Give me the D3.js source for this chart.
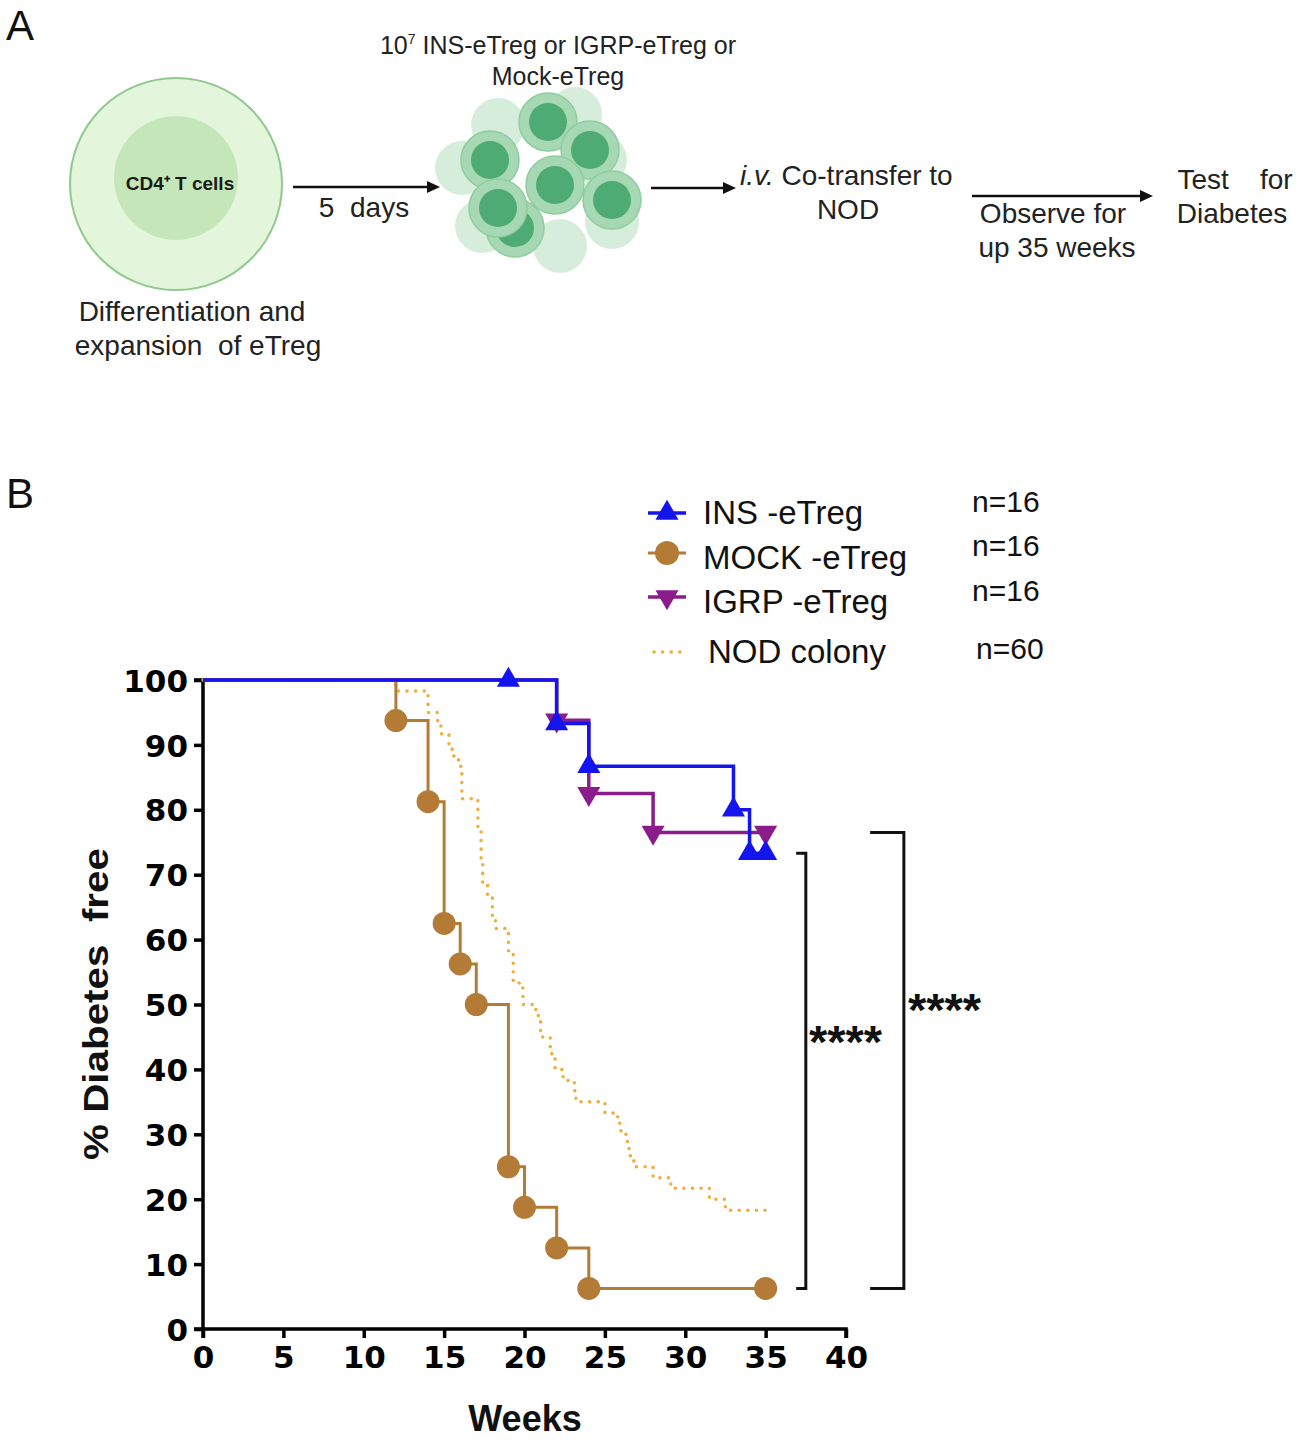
<!DOCTYPE html>
<html>
<head>
<meta charset="utf-8">
<script src="https://cdn.jsdelivr.net/npm/d3@7"></script>
<style>
    body { margin: 0; background: #fff; }
    svg { display: block; }
    text { white-space: pre; }
    .panelText { font-family: "Liberation Sans", Arial, sans-serif; fill: #222; }
    .tickText { font-family: "DejaVu Sans", sans-serif; font-weight: bold; fill: #000; }
</style>
</head>
<body>
<script>
//survival data (weeks, % diabetes free)
var insTimes = [0, 22, 24, 33, 34],
    insValues = [100, 93.3, 86.7, 80, 73.3],
    insMarkTimes = [19, 22, 24, 33, 34, 35],
    insMarkValues = [100, 93.3, 86.7, 80, 73.3, 73.3];

var igrpTimes = [0, 22, 24, 28],
    igrpValues = [100, 93.8, 82.5, 76.5],
    igrpMarkTimes = [22, 24, 28, 35],
    igrpMarkValues = [93.8, 82.5, 76.5, 76.5];

var mockTimes = [0, 12, 14, 15, 16, 17, 19, 20, 22, 24],
    mockValues = [100, 93.75, 81.25, 62.5, 56.25, 50, 25, 18.75, 12.5, 6.25],
    mockMarkTimes = [12, 14, 15, 16, 17, 19, 20, 22, 24, 35],
    mockMarkValues = [93.75, 81.25, 62.5, 56.25, 50, 25, 18.75, 12.5, 6.25, 6.25];

var nodTimes = [0, 12.0, 14.0, 14.6, 14.8, 15.3, 15.5, 15.9, 16.1, 17.1, 17.3, 17.4, 17.7, 18.0, 18.2, 19.0, 19.3, 19.9,
                20.7, 21.0, 21.6, 21.7, 21.9, 22.4, 23.1, 23.2, 25.0, 25.8, 26.0, 26.4, 26.5, 26.8, 28.0, 29.1, 31.5, 32.5],
    nodValues = [100, 98.3, 95.0, 93.3, 91.7, 90.0, 88.3, 86.7, 81.7, 76.7, 71.7, 68.3, 66.7, 63.3, 61.7, 58.3, 53.3, 50.0,
                 48.3, 45.0, 43.3, 41.7, 40.0, 38.3, 36.7, 35.0, 33.3, 31.7, 30.0, 28.3, 26.7, 25.0, 23.3, 21.7, 20.0, 18.3];

var endWeek = 35;

var seriesNames = ["INS -eTreg", "MOCK -eTreg", "IGRP -eTreg", "NOD colony"],
    seriesCounts = ["n=16", "n=16", "n=16", "n=60"];

var xTicks = [0, 5, 10, 15, 20, 25, 30, 35, 40],
    yTicks = [0, 10, 20, 30, 40, 50, 60, 70, 80, 90, 100];

//significance brackets: [x of bracket in weeks, left end in weeks, top value, bottom value]
var bracketWeeks = [37.5, 43.6],
    bracketEnds = [36.9, 41.5],
    bracketTops = [73.3, 76.5],
    bracketBottoms = [6.25, 6.25],
    bracketLabels = ["****", "****"];

(function(){

    var colors = {
        ins: "#1414ee",
        mock: "#b47b36",
        igrp: "#8a1c8c",
        nod: "#efae3c"
    };

    window.onload = draw();

    function draw(){
        var svg = d3.select("body")
            .append("svg")
            .attr("width", 1299)
            .attr("height", 1440);

        drawPanelA(svg);
        drawPanelB(svg);
    };

    function arrow(svg, x1, x2, y){
        svg.append("line")
            .attr("x1", x1).attr("x2", x2 - 10)
            .attr("y1", y).attr("y2", y)
            .attr("stroke", "#111")
            .attr("stroke-width", 2.5);
        svg.append("path")
            .attr("d", "M" + x2 + "," + y + "L" + (x2 - 13) + "," + (y - 6) + "L" + (x2 - 13) + "," + (y + 6) + "Z")
            .attr("fill", "#111");
    };

    function label(svg, x, y, txt, size, anchor){
        return svg.append("text")
            .attr("class", "panelText")
            .attr("x", x)
            .attr("y", y)
            .attr("font-size", size)
            .attr("text-anchor", anchor || "middle")
            .text(txt);
    };

    function drawPanelA(svg){
        label(svg, 6, 40, "A", 42, "start").style("fill", "#111");

        //CD4 cell
        svg.append("circle")
            .attr("cx", 176).attr("cy", 184).attr("r", 106)
            .attr("fill", "#e3f6dc")
            .attr("stroke", "#8fc98d")
            .attr("stroke-width", 2);
        svg.append("circle")
            .attr("cx", 176).attr("cy", 178).attr("r", 62)
            .attr("fill", "#c4e6b8");
        label(svg, 180, 190, "CD4⁺ T cells", 19).attr("font-weight", "bold").style("fill", "#1a1a1a");

        label(svg, 192, 321, "Differentiation and", 28);
        label(svg, 198, 355, "expansion  of eTreg", 28);

        arrow(svg, 293, 440, 187);
        label(svg, 364, 217, "5  days", 28);

        //expanded cell cluster
        var ghost = [[600, 160], [612, 222], [482, 226], [560, 246], [498, 125], [575, 114], [462, 168]];
        var cells = [[548, 122], [490, 160], [590, 150], [612, 200], [515, 228], [555, 185], [498, 208]];
        svg.selectAll(".ghost")
            .data(ghost)
            .enter()
            .append("circle")
            .attr("class", "ghost")
            .attr("cx", function(d){ return d[0]; })
            .attr("cy", function(d){ return d[1]; })
            .attr("r", 27)
            .attr("fill", "#cde9d3")
            .attr("opacity", 0.8);
        var cell = svg.selectAll(".cell")
            .data(cells)
            .enter()
            .append("g")
            .attr("class", "cell");
        cell.append("circle")
            .attr("cx", function(d){ return d[0]; })
            .attr("cy", function(d){ return d[1]; })
            .attr("r", 29)
            .attr("fill", "#a6d9b3")
            .attr("stroke", "#8fcc9e")
            .attr("stroke-width", 1.5);
        cell.append("circle")
            .attr("cx", function(d){ return d[0]; })
            .attr("cy", function(d){ return d[1]; })
            .attr("r", 19)
            .attr("fill", "#4fab74");

        var t = svg.append("text")
            .attr("class", "panelText")
            .attr("x", 558).attr("y", 54)
            .attr("font-size", 25)
            .attr("text-anchor", "middle");
        t.append("tspan").text("10");
        t.append("tspan").attr("font-size", 14).attr("dy", -10).text("7");
        t.append("tspan").attr("dy", 10).text(" INS-eTreg or IGRP-eTreg or");
        label(svg, 558, 85, "Mock-eTreg", 25);

        arrow(svg, 651, 736, 188);
        var iv = svg.append("text")
            .attr("class", "panelText")
            .attr("x", 740).attr("y", 185)
            .attr("font-size", 28);
        iv.append("tspan").attr("font-style", "italic").text("i.v.");
        iv.append("tspan").text(" Co-transfer to");
        label(svg, 848, 219, "NOD", 28);

        arrow(svg, 972, 1153, 196);
        label(svg, 1053, 223, "Observe for", 28);
        label(svg, 1057, 257, "up 35 weeks", 28);
        label(svg, 1235, 189, "Test    for", 28);
        label(svg, 1232, 223, "Diabetes", 28);
    };

    function toPoints(times, values){
        var pts = times.map(function(t, i){ return [t, values[i]]; });
        pts.push([endWeek, values[values.length - 1]]);
        return pts;
    };

    function drawPanelB(svg){
        label(svg, 6, 508, "B", 42, "start").style("fill", "#111");

        var x = d3.scaleLinear().domain([0, 40]).range([203, 846]);
        var y = d3.scaleLinear().domain([0, 100]).range([1329, 680]);

        //axes
        var yAxis = svg.append("g")
            .attr("transform", "translate(" + x(0) + ",0)")
            .call(d3.axisLeft(y).tickValues(yTicks).tickSize(9).tickPadding(6));
        var xAxis = svg.append("g")
            .attr("transform", "translate(0," + y(0) + ")")
            .call(d3.axisBottom(x).tickValues(xTicks).tickSize(9).tickPadding(8));
        [yAxis, xAxis].forEach(function(ax){
            ax.select(".domain").attr("stroke", "#000").attr("stroke-width", 3.5);
            ax.selectAll(".tick line").attr("stroke", "#000").attr("stroke-width", 3.5);
            ax.selectAll(".tick text")
                .attr("class", "tickText")
                .attr("font-size", 31)
                .attr("fill", "#000");
        });
        yAxis.selectAll(".tick text").attr("dy", "0.36em");
        yAxis.select(".domain").attr("d", "M-9," + y(0) + "H0V" + y(100) + "H-9");
        xAxis.select(".domain").attr("d", "M" + x(0) + ",9V0H" + x(40) + "V9");

        svg.append("text")
            .attr("class", "panelText")
            .attr("transform", "translate(108,1004) rotate(-90)")
            .attr("text-anchor", "middle")
            .attr("font-size", 35)
            .attr("font-weight", "bold")
            .attr("textLength", 312)
            .attr("lengthAdjust", "spacingAndGlyphs")
            .style("fill", "#111")
            .text("% Diabetes  free");
        svg.append("text")
            .attr("class", "panelText")
            .attr("x", 525).attr("y", 1431)
            .attr("text-anchor", "middle")
            .attr("font-size", 36)
            .attr("font-weight", "bold")
            .style("fill", "#111")
            .text("Weeks");

        var line = d3.line()
            .curve(d3.curveStepAfter)
            .x(function(d){ return x(d[0]); })
            .y(function(d){ return y(d[1]); });

        //NOD colony dotted curve
        svg.append("path")
            .attr("d", line(toPoints(nodTimes, nodValues)))
            .attr("fill", "none")
            .attr("stroke", colors.nod)
            .attr("stroke-width", 3.5)
            .attr("stroke-linecap", "round")
            .attr("stroke-dasharray", "0.1,8.5");

        svg.append("path")
            .attr("d", line(toPoints(mockTimes, mockValues)))
            .attr("fill", "none")
            .attr("stroke", colors.mock)
            .attr("stroke-width", 3);
        svg.append("path")
            .attr("d", line(toPoints(igrpTimes, igrpValues)))
            .attr("fill", "none")
            .attr("stroke", colors.igrp)
            .attr("stroke-width", 3.5);
        svg.append("path")
            .attr("d", line(toPoints(insTimes, insValues)))
            .attr("fill", "none")
            .attr("stroke", colors.ins)
            .attr("stroke-width", 3.5);

        var tri = d3.symbol().type(d3.symbolTriangle).size(230);

        svg.selectAll(".mock")
            .data(mockMarkTimes)
            .enter()
            .append("circle")
            .attr("class", "mock")
            .attr("cx", function(d){ return x(d); })
            .attr("cy", function(d, i){ return y(mockMarkValues[i]); })
            .attr("r", 11.5)
            .attr("fill", colors.mock);

        svg.selectAll(".igrp")
            .data(igrpMarkTimes)
            .enter()
            .append("path")
            .attr("class", "igrp")
            .attr("d", tri)
            .attr("transform", function(d, i){
                return "translate(" + x(d) + "," + y(igrpMarkValues[i]) + ") rotate(180)";
            })
            .attr("fill", colors.igrp);

        svg.selectAll(".ins")
            .data(insMarkTimes)
            .enter()
            .append("path")
            .attr("class", "ins")
            .attr("d", tri)
            .attr("transform", function(d, i){
                return "translate(" + x(d) + "," + y(insMarkValues[i]) + ")";
            })
            .attr("fill", colors.ins);

        //legend
        var legendY = [513, 553, 597, 652],
            legendBase = [524, 569, 613, 663],
            countBase = [512, 556, 601, 659];
        var legend = svg.selectAll(".legend")
            .data(seriesNames)
            .enter()
            .append("g")
            .attr("class", "legend");
        legend.append("text")
            .attr("class", "panelText")
            .attr("x", function(d, i){ return i == 3 ? 708 : 703; })
            .attr("y", function(d, i){ return legendBase[i]; })
            .attr("font-size", 33)
            .style("fill", "#111")
            .text(function(d){ return d; });
        legend.append("text")
            .attr("class", "panelText")
            .attr("x", function(d, i){ return i == 3 ? 976 : 972; })
            .attr("y", function(d, i){ return countBase[i]; })
            .attr("font-size", 30)
            .style("fill", "#111")
            .text(function(d, i){ return seriesCounts[i]; });

        svg.append("line")
            .attr("x1", 648).attr("x2", 686)
            .attr("y1", legendY[0]).attr("y2", legendY[0])
            .attr("stroke", colors.ins).attr("stroke-width", 3.5);
        svg.append("path")
            .attr("d", tri)
            .attr("transform", "translate(667," + legendY[0] + ")")
            .attr("fill", colors.ins);
        svg.append("line")
            .attr("x1", 648).attr("x2", 686)
            .attr("y1", legendY[1]).attr("y2", legendY[1])
            .attr("stroke", colors.mock).attr("stroke-width", 3);
        svg.append("circle")
            .attr("cx", 667).attr("cy", legendY[1]).attr("r", 12)
            .attr("fill", colors.mock);
        svg.append("line")
            .attr("x1", 648).attr("x2", 686)
            .attr("y1", legendY[2]).attr("y2", legendY[2])
            .attr("stroke", colors.igrp).attr("stroke-width", 3.5);
        svg.append("path")
            .attr("d", tri)
            .attr("transform", "translate(667," + legendY[2] + ") rotate(180)")
            .attr("fill", colors.igrp);
        svg.append("line")
            .attr("x1", 654).attr("x2", 686)
            .attr("y1", legendY[3]).attr("y2", legendY[3])
            .attr("stroke", colors.nod).attr("stroke-width", 3.5)
            .attr("stroke-linecap", "round")
            .attr("stroke-dasharray", "0.1,8.5");

        //significance brackets
        bracketWeeks.forEach(function(w, i){
            svg.append("path")
                .attr("d", "M" + x(bracketEnds[i]) + "," + y(bracketTops[i]) +
                    "H" + x(w) + "V" + y(bracketBottoms[i]) + "H" + x(bracketEnds[i]))
                .attr("fill", "none")
                .attr("stroke", "#111")
                .attr("stroke-width", 3);
        });
        label(svg, 809, 1058, bracketLabels[0], 47, "start").attr("font-weight", "bold").style("fill", "#111");
        label(svg, 908, 1026, bracketLabels[1], 47, "start").attr("font-weight", "bold").style("fill", "#111");
    };

})();
</script>
</body>
</html>
